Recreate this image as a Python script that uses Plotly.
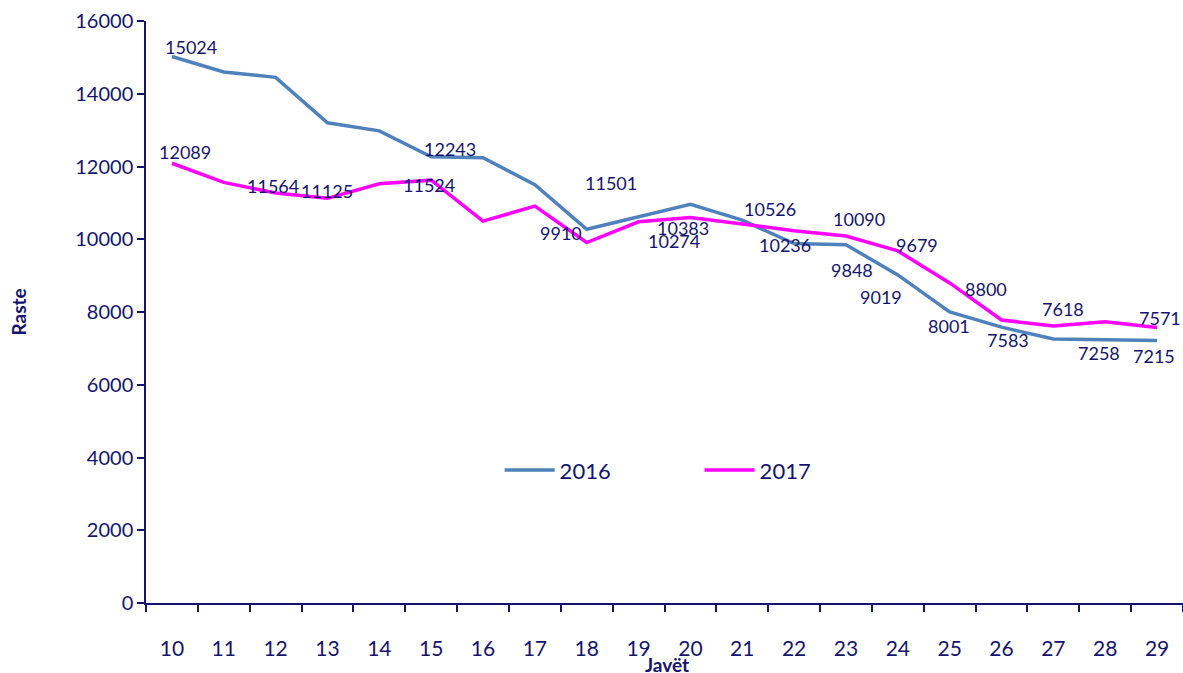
import plotly.graph_objects as go

weeks = list(range(10, 30))
tick_labels = [str(w) for w in weeks]
y_ticks = list(range(0, 16001, 2000))
y_tick_labels = [str(v) for v in y_ticks]
vals_2016 = [15024, 14600, 14450, 13200, 12980, 12265, 12243, 11501, 10274, 10610,
             10960, 10526, 9880, 9848, 9019, 8001, 7583, 7258, 7230, 7215]
vals_2017 = [12089, 11564, 11270, 11125, 11524, 11625, 10500, 10910, 9910, 10480,
             10600, 10410, 10236, 10090, 9679, 8800, 7780, 7618, 7730, 7571]

# data labels as shown in the original (text, x position in week units, y in value units)
label_texts = ["15024", "12089", "11564", "11125", "12243", "11524", "11501", "9910",
               "10383", "10274", "10526", "10236", "10090", "9848", "9679", "9019",
               "8800", "8001", "7583", "7618", "7258", "7571", "7215"]
label_x = [10.365, 10.25, 11.94, 13.0, 15.365, 14.96, 18.46, 17.5, 19.85, 19.69, 21.54,
           21.83, 23.25, 23.12, 24.37, 23.67, 25.71, 24.98, 26.13, 27.19, 27.88, 29.06, 28.94]
label_y = [15284, 12411, 11463, 11326, 12480, 11491, 11544, 10171, 10307, 9951, 10831,
           9841, 10556, 9154, 9841, 8412, 8632, 7615, 7230, 8082, 6873, 7835, 6790]

navy = "#14146E"
font_family = "Lato, Carlito, 'Open Sans', sans-serif"

fig = go.Figure()
fig.add_trace(go.Scatter(x=weeks, y=vals_2016, mode="lines", name="2016",
                         line=dict(color="#4F81BD", width=3.5)))
fig.add_trace(go.Scatter(x=weeks, y=vals_2017, mode="lines", name="2017",
                         line=dict(color="#FF00FF", width=3.5)))

for t, x, y in zip(label_texts, label_x, label_y):
    fig.add_annotation(x=x, y=y, text=t, showarrow=False, xref="x", yref="y",
                       font=dict(size=18, color=navy, family=font_family))

fig.add_annotation(x=0.502, y=-0.106, xref="paper", yref="paper", text="<b>Javët</b>",
                   showarrow=False, font=dict(size=19, color=navy, family=font_family),
                   yanchor="middle")
fig.add_annotation(x=-0.123, y=0.5, xref="paper", yref="paper", text="<b>Raste</b>",
                   showarrow=False, textangle=-90,
                   font=dict(size=19, color=navy, family=font_family), xanchor="center")

fig.update_layout(
    width=1183, height=673,
    margin=dict(l=146, r=0, t=21, b=70),
    paper_bgcolor="white", plot_bgcolor="white",
    font=dict(family=font_family, color=navy, size=18),
    showlegend=True,
    legend=dict(orientation="h", x=0.341, y=0.228, xanchor="left", yanchor="middle",
                bgcolor="rgba(0,0,0,0)", font=dict(size=22, color=navy),
                entrywidth=135, entrywidthmode="pixels", itemwidth=50),
)
fig.update_xaxes(
    range=[9.5, 29.5], tickmode="array", tickvals=weeks, ticktext=tick_labels,
    ticks="", showgrid=False, showline=True, linecolor=navy, linewidth=1.5,
    ticklabelstandoff=26, tickfont=dict(size=21, color=navy), automargin=False,
    minor=dict(tickmode="array", tickvals=[w - 0.5 for w in weeks] + [29.5],
               ticks="outside", ticklen=7, tickcolor=navy, tickwidth=1.5, showgrid=False),
    zeroline=False,
)
fig.update_yaxes(
    range=[0, 16000], tickmode="array", tickvals=y_ticks, ticktext=y_tick_labels,
    ticks="outside", ticklen=7, tickcolor=navy, tickwidth=1.5, automargin=False,
    showgrid=False, showline=True, linecolor=navy, linewidth=1.5, zeroline=False,
    tickfont=dict(size=20, color=navy),
)

fig.write_html("out.html", config={"displayModeBar": False},
               post_script="document.body.style.margin='0';document.body.style.overflow='hidden';")
